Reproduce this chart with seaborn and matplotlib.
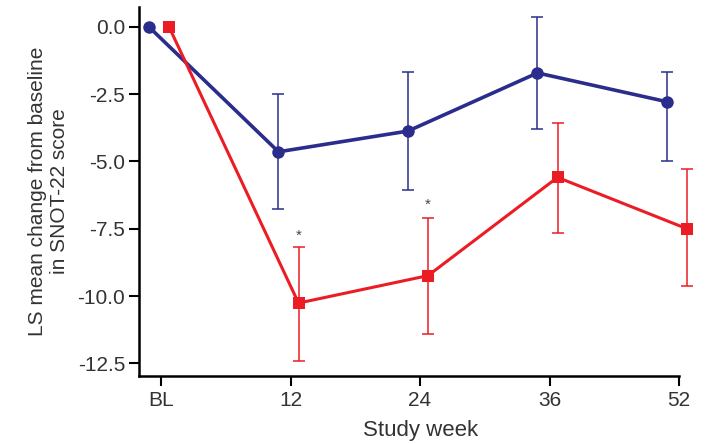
import matplotlib
matplotlib.use("Agg")
import matplotlib.pyplot as plt
import seaborn as sns
import pandas as pd
import numpy as np

weeks = ["BL", "12", "24", "36", "52"]
blue_mean = [0.0, -4.64, -3.87, -1.71, -2.78]
blue_low = [0.0, -6.77, -6.05, -3.78, -4.99]
blue_high = [0.0, -2.50, -1.66, 0.35, -1.66]
red_mean = [0.0, -10.26, -9.24, -5.59, -7.50]
red_low = [0.0, -12.42, -11.41, -7.67, -9.63]
red_high = [0.0, -8.19, -7.10, -3.56, -5.28]
star_weeks = ["12", "24"]
star_y = [-7.76, -6.62]
yticks = [0.0, -2.5, -5.0, -7.5, -10.0, -12.5]

sns.set_theme(style="ticks")
plt.rcParams['font.family'] = ['Liberation Sans', 'DejaVu Sans']

BLUE = "#2b2d8c"
RED = "#ec1c24"
off_b, off_r = -0.093, 0.062

idx = np.arange(len(weeks))
df = pd.concat([
    pd.DataFrame({"x": idx + off_b, "y": blue_mean, "grp": "A"}),
    pd.DataFrame({"x": idx + off_r, "y": red_mean, "grp": "B"}),
])

fig = plt.figure(figsize=(7.16, 4.44), dpi=100)
ax = fig.add_axes([139/716, 1-376/444, (679-139)/716, (376-7)/444])

for grp, col, mk, ms, lw in [("A", BLUE, "o", 9, 2.6), ("B", RED, "s", 9, 2.2)]:
    sub = df[df.grp == grp]
    sns.lineplot(data=sub, x="x", y="y", color=col, marker=mk, markersize=ms,
                 markeredgewidth=0, linewidth=lw, ax=ax, clip_on=False,
                 zorder=3, legend=False)

for mean, lo, hi, off, col in [(blue_mean, blue_low, blue_high, off_b, BLUE),
                               (red_mean, red_low, red_high, off_r, RED)]:
    m = np.array(mean[1:]); l = np.array(lo[1:]); h = np.array(hi[1:])
    ax.errorbar(idx[1:] + off, m, yerr=[m - l, h - m], fmt="none", ecolor=col,
                elinewidth=1.1, capsize=4.5, capthick=1.1, clip_on=False, zorder=2)

for w, y in zip(star_weeks, star_y):
    ax.text(weeks.index(w) + off_r, y, "*", ha="center", va="center",
            fontsize=11, color="#444444")

ax.set_xlim(-0.17, 4.0)
ax.set_ylim(-12.97, 0.74)
ax.set_xticks(idx)
ax.set_xticklabels(weeks)
ax.set_yticks(yticks)
ax.set_yticklabels([f"{t:.1f}" for t in yticks])
ax.tick_params(axis="both", labelsize=15, width=1.5, length=7, color="black",
               labelcolor="#333333")
ax.tick_params(axis="x", pad=4)
ax.tick_params(axis="y", pad=3)
for s in ["left", "bottom"]:
    ax.spines[s].set_linewidth(1.8)
    ax.spines[s].set_color("black")
sns.despine(ax=ax)
ax.set_xlabel("Study week", fontsize=16, color="#333333")
ax.xaxis.set_label_coords(0.522, -0.118)
ax.set_ylabel("LS mean change from baseline\nin SNOT-22 score", fontsize=15,
              color="#333333", labelpad=6, linespacing=1.2)

fig.savefig("out.png", dpi=100)
